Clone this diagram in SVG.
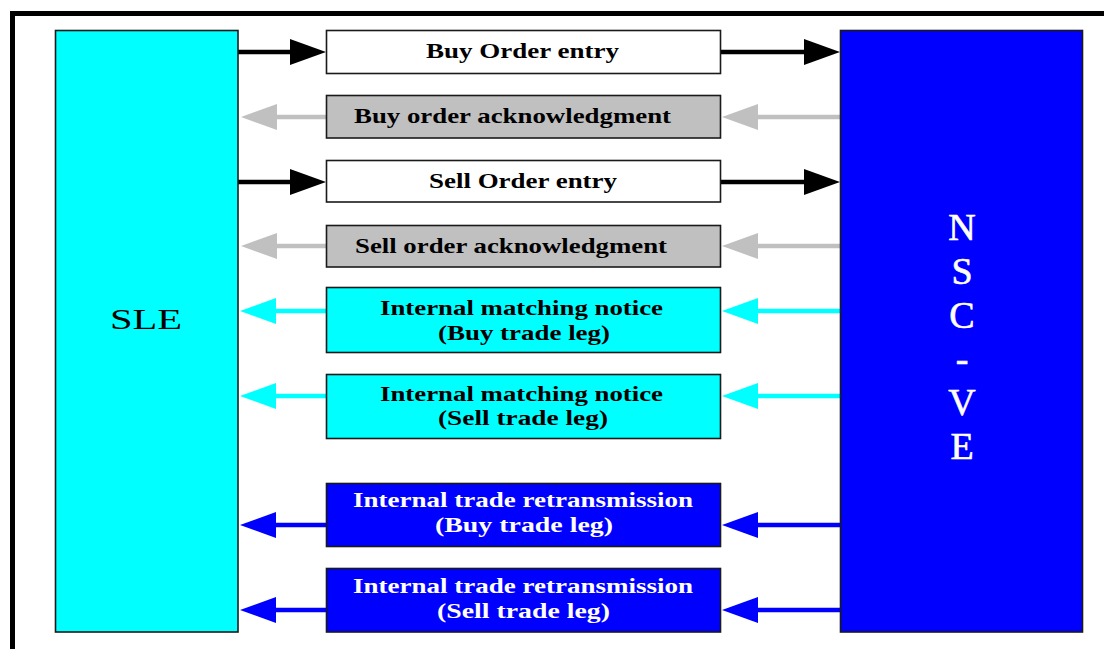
<svg xmlns="http://www.w3.org/2000/svg" width="1104" height="649" viewBox="0 0 1104 649">
  <style>
    .frame { stroke: #000; stroke-width: 5; fill: none; }
    .box { stroke: #1a1a1a; stroke-width: 1.6; }
    .white { fill: #ffffff; }
    .gray { fill: #c0c0c0; }
    .cyan { fill: #00ffff; }
    .blue { fill: #0000ff; }
    .lbl { font-family: "Liberation Serif", "Times New Roman", serif; font-weight: bold; font-size: 22px; fill: #000; }
    .lbl.inv { fill: #fff; }
    .big { font-family: "Liberation Serif", "Times New Roman", serif; font-size: 29px; fill: #000; }
    .tall { font-family: "Liberation Serif", "Times New Roman", serif; font-size: 38px; fill: #fff; text-anchor: middle; stroke: #fff; stroke-width: 0.6; }
    .ln { fill: none; stroke-width: 4.5; }
    .k { stroke: #000; }
    .g { stroke: #c0c0c0; }
    .c { stroke: #00ffff; }
    .b { stroke: #0000ff; }
  </style>
  <defs>
    <marker id="headK" markerUnits="userSpaceOnUse" markerWidth="36" markerHeight="26" refX="0" refY="13" orient="auto">
      <path d="M0,0 L36,13 L0,26 Z" fill="#000"/>
    </marker>
    <marker id="headG" markerUnits="userSpaceOnUse" markerWidth="36" markerHeight="26" refX="0" refY="13" orient="auto">
      <path d="M0,0 L36,13 L0,26 Z" fill="#c0c0c0"/>
    </marker>
    <marker id="headC" markerUnits="userSpaceOnUse" markerWidth="36" markerHeight="26" refX="0" refY="13" orient="auto">
      <path d="M0,0 L36,13 L0,26 Z" fill="#00ffff"/>
    </marker>
    <marker id="headB" markerUnits="userSpaceOnUse" markerWidth="36" markerHeight="26" refX="0" refY="13" orient="auto">
      <path d="M0,0 L36,13 L0,26 Z" fill="#0000ff"/>
    </marker>
  </defs>

  <rect width="1104" height="649" fill="#ffffff"/>

  <!-- outer frame: top and left rules -->
  <path class="frame" d="M12.5,649 V13.5 H1104"/>

  <!-- connectors -->
  <g id="connectors">
    <!-- order entries: SLE to message box to NSC-VE -->
    <path class="ln k" d="M238,52 H290" marker-end="url(#headK)"/>
    <path class="ln k" d="M720,52 H804" marker-end="url(#headK)"/>
    <path class="ln k" d="M238,182 H290" marker-end="url(#headK)"/>
    <path class="ln k" d="M720,182 H804" marker-end="url(#headK)"/>
    <!-- acknowledgments: NSC-VE back to SLE -->
    <path class="ln g" d="M840,117 H758" marker-end="url(#headG)"/>
    <path class="ln g" d="M326,117 H277" marker-end="url(#headG)"/>
    <path class="ln g" d="M840,246 H758" marker-end="url(#headG)"/>
    <path class="ln g" d="M326,246 H277" marker-end="url(#headG)"/>
    <!-- matching notices -->
    <path class="ln c" d="M840,311 H758" marker-end="url(#headC)"/>
    <path class="ln c" d="M326,311 H276" marker-end="url(#headC)"/>
    <path class="ln c" d="M840,396 H758" marker-end="url(#headC)"/>
    <path class="ln c" d="M326,396 H276" marker-end="url(#headC)"/>
    <!-- trade retransmissions -->
    <path class="ln b" d="M840,525 H758" marker-end="url(#headB)"/>
    <path class="ln b" d="M326,525 H276" marker-end="url(#headB)"/>
    <path class="ln b" d="M840,610 H758" marker-end="url(#headB)"/>
    <path class="ln b" d="M326,610 H276" marker-end="url(#headB)"/>
  </g>

  <g id="sle">
    <rect class="box cyan" x="55.5" y="30.5" width="182.5" height="601.5"/>
    <text class="big" x="110" y="329" textLength="72" lengthAdjust="spacingAndGlyphs">SLE</text>
  </g>

  <g id="nsc-ve">
    <rect class="box blue" x="840.5" y="30.5" width="242" height="601.5"/>
    <text class="tall" x="962" y="240">N</text>
    <text class="tall" x="962" y="284">S</text>
    <text class="tall" x="962" y="328">C</text>
    <text class="tall" x="962" y="372">-</text>
    <text class="tall" x="962" y="415">V</text>
    <text class="tall" x="962" y="459">E</text>
  </g>

  <g id="buy-order-entry">
    <rect class="box white" x="326.5" y="30.5" width="394" height="43"/>
    <text class="lbl" x="426" y="58" textLength="193" lengthAdjust="spacingAndGlyphs">Buy Order entry</text>
  </g>

  <g id="buy-order-ack">
    <rect class="box gray" x="326.5" y="95.5" width="394" height="42.5"/>
    <text class="lbl" x="354" y="123" textLength="317" lengthAdjust="spacingAndGlyphs">Buy order acknowledgment</text>
  </g>

  <g id="sell-order-entry">
    <rect class="box white" x="326.5" y="160.5" width="394" height="41.5"/>
    <text class="lbl" x="429" y="188" textLength="188" lengthAdjust="spacingAndGlyphs">Sell Order entry</text>
  </g>

  <g id="sell-order-ack">
    <rect class="box gray" x="326.5" y="225.5" width="394" height="41.5"/>
    <text class="lbl" x="355" y="253" textLength="312" lengthAdjust="spacingAndGlyphs">Sell order acknowledgment</text>
  </g>

  <g id="match-buy">
    <rect class="box cyan" x="326.5" y="287.5" width="394" height="65"/>
    <text class="lbl" x="380" y="315" textLength="283" lengthAdjust="spacingAndGlyphs">Internal matching notice</text>
    <text class="lbl" x="438" y="340" textLength="172" lengthAdjust="spacingAndGlyphs">(Buy trade leg)</text>
  </g>

  <g id="match-sell">
    <rect class="box cyan" x="326.5" y="374.5" width="394" height="64"/>
    <text class="lbl" x="380" y="401" textLength="283" lengthAdjust="spacingAndGlyphs">Internal matching notice</text>
    <text class="lbl" x="438" y="425" textLength="170" lengthAdjust="spacingAndGlyphs">(Sell trade leg)</text>
  </g>

  <g id="retrans-buy">
    <rect class="box blue" x="326.5" y="483.5" width="394" height="63"/>
    <text class="lbl inv" x="353" y="507" textLength="340" lengthAdjust="spacingAndGlyphs">Internal trade retransmission</text>
    <text class="lbl inv" x="435" y="532" textLength="178" lengthAdjust="spacingAndGlyphs">(Buy  trade leg)</text>
  </g>

  <g id="retrans-sell">
    <rect class="box blue" x="326.5" y="568.5" width="394" height="63.5"/>
    <text class="lbl inv" x="353" y="593" textLength="340" lengthAdjust="spacingAndGlyphs">Internal trade retransmission</text>
    <text class="lbl inv" x="437" y="618" textLength="173" lengthAdjust="spacingAndGlyphs">(Sell  trade leg)</text>
  </g>
</svg>
